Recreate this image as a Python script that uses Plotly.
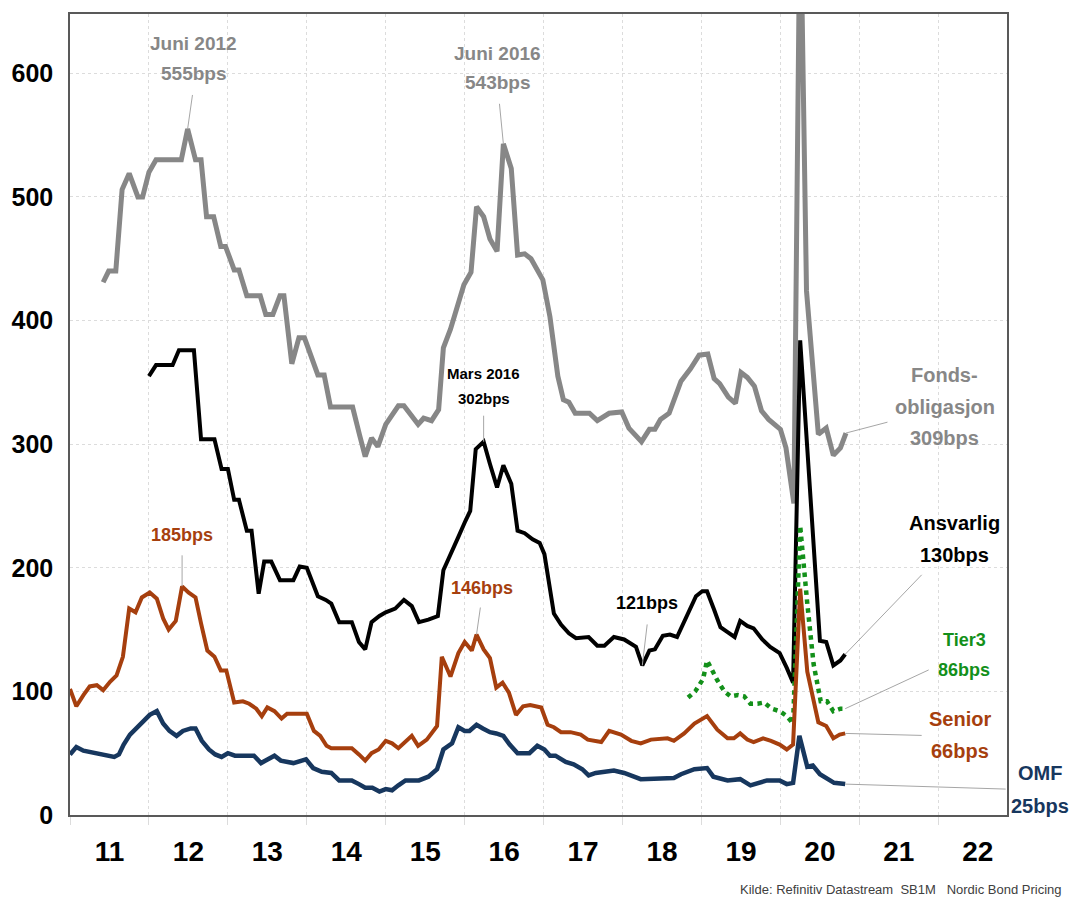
import plotly.graph_objects as go

# Kredittpåslag (bps), lest som (år, verdi)
fonds = [
    (2011.42, 431), (2011.49, 440), (2011.58, 440), (2011.66, 506), (2011.75, 519),
    (2011.86, 500), (2011.92, 500), (2012.00, 520), (2012.09, 530), (2012.41, 530),
    (2012.49, 555), (2012.59, 530), (2012.66, 530), (2012.73, 484), (2012.82, 484),
    (2012.91, 460), (2012.97, 460), (2013.08, 441), (2013.14, 441), (2013.24, 420),
    (2013.41, 420), (2013.48, 405), (2013.57, 405), (2013.66, 420), (2013.71, 420),
    (2013.81, 365), (2013.90, 386), (2013.97, 386), (2014.14, 356), (2014.22, 356),
    (2014.30, 330), (2014.58, 330), (2014.67, 307), (2014.74, 290), (2014.82, 305),
    (2014.90, 298), (2015.00, 316), (2015.16, 331), (2015.23, 331), (2015.41, 316),
    (2015.48, 321), (2015.58, 319), (2015.67, 328), (2015.73, 378), (2015.82, 393),
    (2015.90, 410), (2015.99, 429), (2016.08, 439), (2016.15, 492), (2016.24, 484),
    (2016.32, 466), (2016.41, 456), (2016.49, 543), (2016.59, 523), (2016.67, 453),
    (2016.76, 454), (2016.84, 450), (2016.99, 433), (2017.08, 403), (2017.18, 355),
    (2017.25, 336), (2017.32, 334), (2017.40, 325), (2017.58, 325), (2017.68, 319),
    (2017.83, 325), (2017.99, 326), (2018.08, 313), (2018.24, 302), (2018.34, 312),
    (2018.41, 312), (2018.48, 320), (2018.59, 325), (2018.74, 351), (2018.86, 361),
    (2018.97, 372), (2019.08, 373), (2019.16, 353), (2019.23, 349), (2019.34, 338),
    (2019.43, 333), (2019.50, 358), (2019.58, 354), (2019.67, 347), (2019.76, 327),
    (2019.85, 320), (2020.00, 312), (2020.07, 297), (2020.11, 280), (2020.17, 252),
    (2020.25, 750), (2020.33, 424), (2020.48, 308), (2020.58, 313), (2020.67, 291),
    (2020.76, 297), (2020.83, 309),
]

ansvarlig = [
    (2012.00, 355), (2012.09, 364), (2012.30, 364), (2012.38, 376), (2012.57, 376),
    (2012.66, 304), (2012.83, 304), (2012.92, 280), (2013.00, 280), (2013.08, 255),
    (2013.14, 255), (2013.24, 230), (2013.30, 230), (2013.39, 179), (2013.46, 205),
    (2013.55, 205), (2013.66, 190), (2013.83, 190), (2013.91, 201), (2014.00, 200),
    (2014.14, 177), (2014.24, 174), (2014.31, 171), (2014.41, 156), (2014.57, 156),
    (2014.66, 140), (2014.74, 134), (2014.82, 156), (2014.92, 161), (2015.00, 164),
    (2015.12, 167), (2015.23, 174), (2015.33, 169), (2015.42, 156), (2015.54, 158),
    (2015.66, 161), (2015.73, 198), (2015.82, 210), (2015.92, 225), (2016.01, 238),
    (2016.07, 246), (2016.14, 296), (2016.24, 302), (2016.32, 284), (2016.41, 265),
    (2016.49, 283), (2016.59, 268), (2016.67, 230), (2016.76, 228), (2016.86, 223),
    (2016.95, 220), (2017.01, 211), (2017.13, 163), (2017.22, 154), (2017.32, 147),
    (2017.41, 143), (2017.57, 144), (2017.68, 137), (2017.77, 137), (2017.89, 144),
    (2018.02, 142), (2018.17, 136), (2018.25, 121), (2018.34, 133), (2018.41, 134),
    (2018.51, 145), (2018.60, 146), (2018.69, 144), (2018.82, 162), (2018.93, 177),
    (2019.01, 181), (2019.07, 181), (2019.16, 166), (2019.24, 152), (2019.33, 148),
    (2019.42, 144), (2019.49, 157), (2019.58, 153), (2019.66, 151), (2019.77, 142),
    (2019.87, 136), (2019.99, 131), (2020.08, 119), (2020.16, 107), (2020.25, 384),
    (2020.50, 141), (2020.58, 140), (2020.67, 121), (2020.76, 125), (2020.82, 130),
]

tier3 = [
    (2018.83, 95), (2018.92, 100), (2019.02, 110), (2019.07, 125), (2019.12, 119),
    (2019.20, 109), (2019.29, 100), (2019.37, 96), (2019.46, 97), (2019.54, 96),
    (2019.62, 90), (2019.71, 90), (2019.79, 91), (2019.89, 86), (2019.99, 84),
    (2020.08, 80), (2020.16, 74), (2020.25, 234), (2020.34, 171), (2020.42, 122),
    (2020.51, 92), (2020.59, 92), (2020.67, 84), (2020.76, 86), (2020.82, 86),
]

senior = [
    (2011.00, 102), (2011.08, 88), (2011.17, 97), (2011.25, 104), (2011.34, 105),
    (2011.42, 101), (2011.51, 108), (2011.59, 113), (2011.67, 128), (2011.75, 167),
    (2011.83, 164), (2011.91, 176), (2012.01, 180), (2012.10, 175), (2012.18, 159),
    (2012.25, 150), (2012.34, 157), (2012.42, 185), (2012.50, 180), (2012.59, 176),
    (2012.66, 155), (2012.74, 133), (2012.83, 128), (2012.91, 117), (2012.98, 117),
    (2013.08, 91), (2013.19, 92), (2013.27, 90), (2013.36, 86), (2013.43, 80),
    (2013.50, 87), (2013.59, 84), (2013.68, 78), (2013.75, 82), (2014.00, 82),
    (2014.09, 68), (2014.17, 64), (2014.25, 56), (2014.31, 54), (2014.57, 54),
    (2014.66, 49), (2014.74, 44), (2014.82, 50), (2014.91, 53), (2015.00, 60),
    (2015.08, 58), (2015.16, 54), (2015.24, 59), (2015.33, 64), (2015.41, 56),
    (2015.52, 61), (2015.65, 72), (2015.71, 128), (2015.82, 112), (2015.92, 131),
    (2016.00, 140), (2016.09, 133), (2016.15, 146), (2016.24, 134), (2016.32, 127),
    (2016.40, 103), (2016.48, 107), (2016.56, 99), (2016.65, 81), (2016.74, 88),
    (2016.83, 89), (2016.97, 87), (2017.05, 73), (2017.13, 71), (2017.22, 67),
    (2017.34, 67), (2017.47, 65), (2017.56, 61), (2017.73, 59), (2017.83, 68),
    (2017.98, 65), (2018.11, 60), (2018.23, 58), (2018.36, 61), (2018.57, 62),
    (2018.65, 60), (2018.78, 66), (2018.91, 74), (2019.07, 80), (2019.20, 69),
    (2019.33, 62), (2019.41, 62), (2019.49, 66), (2019.58, 61), (2019.66, 59),
    (2019.78, 62), (2019.88, 60), (2019.99, 57), (2020.08, 53), (2020.16, 57),
    (2020.25, 183), (2020.34, 116), (2020.48, 75), (2020.58, 72), (2020.67, 62),
    (2020.75, 65), (2020.82, 66),
]

omf = [
    (2011.00, 49), (2011.08, 55), (2011.17, 52), (2011.25, 51), (2011.35, 49),
    (2011.45, 48), (2011.56, 47), (2011.62, 49), (2011.68, 57), (2011.76, 65),
    (2011.84, 70), (2011.94, 76), (2012.01, 81), (2012.10, 84), (2012.18, 74),
    (2012.26, 68), (2012.35, 64), (2012.43, 68), (2012.53, 70), (2012.59, 70),
    (2012.67, 60), (2012.76, 53), (2012.84, 49), (2012.92, 47), (2013.00, 50),
    (2013.09, 48), (2013.33, 48), (2013.42, 42), (2013.50, 45), (2013.59, 48),
    (2013.67, 44), (2013.83, 42), (2013.99, 45), (2014.08, 38), (2014.19, 35),
    (2014.31, 34), (2014.41, 28), (2014.57, 28), (2014.66, 25), (2014.74, 22),
    (2014.83, 22), (2014.92, 19), (2015.00, 21), (2015.08, 20), (2015.16, 24),
    (2015.25, 28), (2015.33, 28), (2015.42, 28), (2015.54, 31), (2015.65, 37),
    (2015.73, 53), (2015.84, 58), (2015.92, 71), (2016.00, 68), (2016.06, 68),
    (2016.15, 73), (2016.23, 70), (2016.32, 67), (2016.40, 66), (2016.49, 64),
    (2016.57, 57), (2016.67, 50), (2016.82, 50), (2016.92, 56), (2017.01, 53),
    (2017.08, 48), (2017.15, 48), (2017.28, 43), (2017.38, 41), (2017.49, 37),
    (2017.57, 32), (2017.66, 34), (2017.89, 36), (2018.02, 34), (2018.23, 29),
    (2018.65, 30), (2018.74, 33), (2018.91, 37), (2019.07, 38), (2019.15, 31),
    (2019.33, 28), (2019.49, 29), (2019.62, 24), (2019.71, 26), (2019.83, 28),
    (2019.99, 28), (2020.08, 25), (2020.16, 26), (2020.24, 64), (2020.34, 39),
    (2020.41, 40), (2020.50, 33), (2020.59, 30), (2020.68, 26), (2020.82, 25),
]

years = list(range(2011, 2023))
tick_labels = [str(y % 100) for y in years]
y_ticks = [0, 100, 200, 300, 400, 500, 600]

GREY = "#878787"
BLACK = "#000000"
BROWN = "#A63F0E"
NAVY = "#17375E"
GREEN = "#13901A"
LEADER = "#a6a6a6"
FONT = "Liberation Sans, Arial, sans-serif"

W, H = 1069, 898
M = dict(l=66, r=62, t=12, b=83)
X_RANGE = [2011, 2022.87]


def cols(pairs):
    return [p[0] for p in pairs], [p[1] for p in pairs]


def at(pairs, t):
    return next(p for p in pairs if abs(p[0] - t) < 1e-6)


fig = go.Figure()
series = [
    ("Fondsobligasjon", fonds, GREY, 5, "solid"),
    ("Ansvarlig", ansvarlig, BLACK, 4, "solid"),
    ("Tier3", tier3, GREEN, 4.5, "dot"),
    ("Senior", senior, BROWN, 4, "solid"),
    ("OMF", omf, NAVY, 4.5, "solid"),
]
for name, pairs, color, width, dash in series:
    xs, ys = cols(pairs)
    fig.add_trace(go.Scatter(
        x=xs, y=ys, name=name, mode="lines",
        line=dict(color=color, width=width, dash=dash),
        hoverinfo="skip",
    ))

# Etiketter: (serie, tidspunkt, tekstlinjer før verdien, farge, størrelse,
#             tekstforskyvning x, linjeforskyvninger y, start på ledelinje (dx, dy))
labels = [
    (fonds, 2012.49, ["Juni 2012"], GREY, 19, 6, [-85, -55], (5, -35)),
    (fonds, 2016.49, ["Juni 2016"], GREY, 19, -6, [-90, -61], (-4, -41)),
    (ansvarlig, 2016.24, ["Mars 2016"], BLACK, 15, 0, [-68, -43], (0, -27)),
    (senior, 2012.42, [], BROWN, 18, 0, [-51], (0, -32)),
    (senior, 2016.15, [], BROWN, 18, 5, [-47], (4, -28)),
    (ansvarlig, 2018.25, [], BLACK, 18, 5, [-62], (5, -42)),
    (fonds, fonds[-1][0], ["Fonds-", "obligasjon"], GREY, 20, 99, [-58, -26, 5], (42, -11)),
    (ansvarlig, ansvarlig[-1][0], ["Ansvarlig"], BLACK, 20, 109, [-131, -99], (77, -80)),
    (tier3, tier3[-1][0], ["Tier3"], GREEN, 18, 119, [-69, -39], (84, -39)),
    (senior, senior[-1][0], ["Senior"], BROWN, 20, 115, [-14, 18], (77, 2)),
    (omf, omf[-1][0], ["OMF"], NAVY, 20, 195, [-11, 22], (161, 5)),
]
annotations = []
for pairs, t, head, color, size, dx, dys, lead in labels:
    x, v = at(pairs, t)
    lines = head + [f"{v}bps"]
    for line, dy in zip(lines, dys):
        annotations.append(dict(
            x=x, y=v, xref="x", yref="y", text=line, showarrow=False,
            xanchor="center", yanchor="middle", xshift=dx, yshift=-dy,
            font=dict(family=FONT, size=size, color=color, weight="bold"),
        ))
    annotations.append(dict(
        x=x, y=v, xref="x", yref="y", text=" ",
        showarrow=True, arrowhead=0, arrowwidth=1, arrowcolor=LEADER,
        standoff=0, startstandoff=0, ax=lead[0], ay=lead[1],
        font=dict(size=1), borderpad=0,
    ))

plot_w = W - M["l"] - M["r"]
plot_h = H - M["t"] - M["b"]
annotations.append(dict(
    text="Kilde:\u00a0Refinitiv\u00a0Datastream\u00a0\u00a0SB1M\u00a0\u00a0\u00a0Nordic\u00a0Bond\u00a0Pricing",
    xref="paper", yref="paper",
    x=(W - 5 - M["l"]) / plot_w, y=-(890 - (H - M["b"])) / plot_h,
    xanchor="right", yanchor="middle", showarrow=False,
    font=dict(family=FONT, size=13, color="#404040"),
))

fig.update_layout(
    width=W, height=H, margin=M,
    paper_bgcolor="white", plot_bgcolor="white",
    showlegend=False,
    annotations=annotations,
    xaxis=dict(
        range=X_RANGE,
        tickmode="array", tickvals=[y + 0.5 for y in years], ticktext=tick_labels,
        showgrid=False, zeroline=False, ticks="",
        showline=True, linecolor="#595959", linewidth=1.5, mirror=True,
        tickfont=dict(family=FONT, size=28, color="black", weight="bold"),
        ticklabelstandoff=11,
        minor=dict(tick0=2011, dtick=1, showgrid=True, gridcolor="#dcdcdc",
                   griddash="dot", gridwidth=1, ticks="outside", ticklen=8,
                   tickcolor="#dcdcdc"),
    ),
    yaxis=dict(
        range=[0, 648],
        tickmode="array", tickvals=y_ticks,
        showgrid=True, gridcolor="#dcdcdc", griddash="dot", gridwidth=1,
        zeroline=False, ticks="",
        showline=True, linecolor="#595959", linewidth=1.5, mirror=True,
        tickfont=dict(family=FONT, size=25, color="black", weight="bold"),
        ticklabelstandoff=10,
    ),
)

fig.write_html("out.html", config={"displayModeBar": False})
